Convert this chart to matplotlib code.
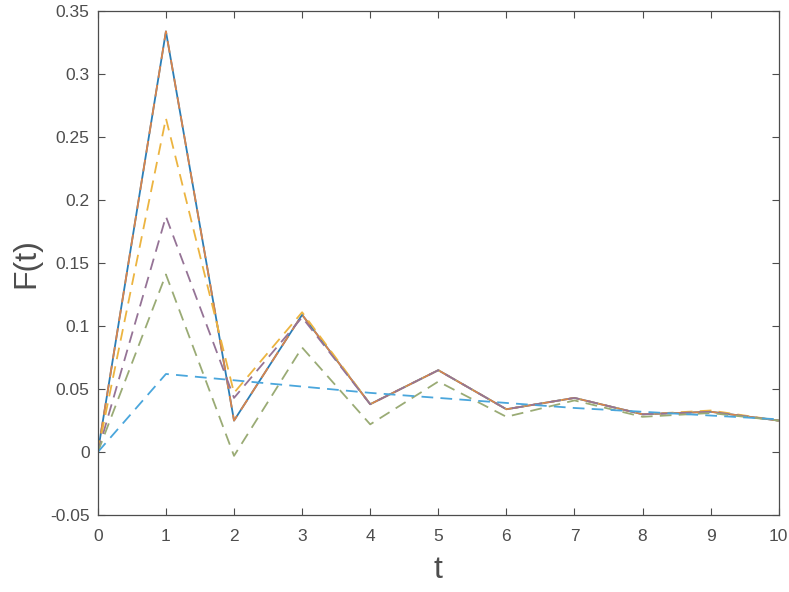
import matplotlib
matplotlib.use("Agg")
import matplotlib.pyplot as plt

plt.rcParams['font.family'] = ['Liberation Sans', 'DejaVu Sans']

# time steps
t = [0, 1, 2, 3, 4, 5, 6, 7, 8, 9, 10]

# series
f_solid = [0.0, 0.334, 0.025, 0.109, 0.038, 0.065, 0.034, 0.043, 0.030, 0.032, 0.025]
f_orange = [0.0, 0.334, 0.025, 0.109, 0.038, 0.065, 0.034, 0.043, 0.030, 0.032, 0.025]
f_yellow = [0.0, 0.265, 0.047, 0.111, 0.038, 0.065, 0.034, 0.043, 0.030, 0.033, 0.025]
f_purple = [0.0, 0.187, 0.043, 0.107, 0.038, 0.065, 0.034, 0.043, 0.030, 0.032, 0.025]
f_green = [0.0, 0.141, -0.003, 0.083, 0.022, 0.056, 0.028, 0.041, 0.028, 0.031, 0.025]
f_light = [0.0, 0.062, 0.057, 0.052, 0.047, 0.043, 0.039, 0.035, 0.032, 0.029, 0.026]

fig = plt.figure(figsize=(7.89, 5.92), dpi=100)
ax = fig.add_axes([0.124, 0.13, 0.863, 0.851])

dash = (0, (6.5, 4))
ax.plot(t, f_solid, color='#2a7db6', lw=1.3)
ax.plot(t, f_orange, color='#d8844c', lw=1.3, ls=dash)
ax.plot(t, f_yellow, color='#ecb440', lw=1.3, ls=dash)
ax.plot(t, f_purple, color='#957396', lw=1.3, ls=dash)
ax.plot(t, f_green, color='#9aab75', lw=1.3, ls=dash)
ax.plot(t, f_light, color='#4aa6dc', lw=1.3, ls=dash)

ax.set_xlim(0, 10)
ax.set_ylim(-0.05, 0.35)
ax.set_xticks(range(0, 11))
ax.set_yticks([-0.05, 0, 0.05, 0.1, 0.15, 0.2, 0.25, 0.3, 0.35])
ax.set_yticklabels(['-0.05', '0', '0.05', '0.1', '0.15', '0.2', '0.25', '0.3', '0.35'])

ax.tick_params(direction='in', top=True, right=True, length=5, width=0.8,
               colors='#4d4d4d', labelsize=12.5, labelcolor='#4d4d4d')
ax.tick_params(axis='x', pad=10)
ax.tick_params(axis='y', pad=6)
for s in ax.spines.values():
    s.set_color('#4d4d4d')
    s.set_linewidth(0.9)

ax.set_xlabel('t', fontsize=23, color='#4d4d4d', labelpad=8)
ax.set_ylabel('F(t)', fontsize=23, color='#4d4d4d', labelpad=6)

fig.savefig('out.png', dpi=100)
